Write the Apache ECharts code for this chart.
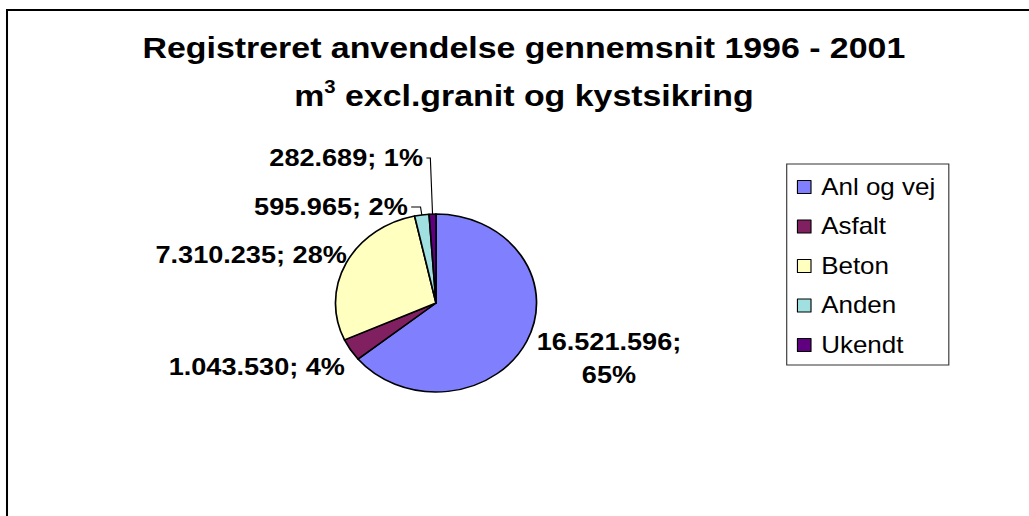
<!DOCTYPE html>
<html>
<head>
<meta charset="utf-8">
<script src="https://cdn.jsdelivr.net/npm/echarts@6/dist/echarts.min.js"></script>
<style>
html,body{margin:0;padding:0;background:#fff;overflow:hidden;}
#main{width:911px;height:516px;transform:scaleX(1.12953);transform-origin:0 0;}
</style>
</head>
<body>
<div id="main"></div>
<script>
// ---- data ----
const categories = ['Anl og vej', 'Asfalt', 'Beton', 'Anden', 'Ukendt'];
const values = [16521596, 1043530, 7310235, 595965, 282689];
const shownPercent = [65, 4, 28, 2, 1];
const colors = ['#8080FF', '#802060', '#FFFFC0', '#A0E0E0', '#600080'];
const titleLine1 = 'Registreret anvendelse gennemsnit 1996 - 2001';
const titleLine2a = 'm';
const titleLine2sup = '3';
const titleLine2b = ' excl.granit og kystsikring';

// per-slice label line geometry (style only)
const lineLen = [38.8, 32.7, 18.1, 8, 56.1];
const lineLen2 = [-29.3, -25.9, -19.8, 8.3, 3.5];
const lineShow = [false, false, false, true, true];
const wrapLabel = [true, false, false, false, false];

function fmt(v) {
  return String(v).replace(/\B(?=(\d{3})+(?!\d))/g, '.');
}

const font = "'Liberation Sans', Arial, sans-serif";
const chart = echarts.init(document.getElementById('main'), null, {renderer: 'svg'});

const data = categories.map((name, i) => ({
  name: name,
  value: values[i],
  itemStyle: {color: colors[i]},
  labelLine: {show: lineShow[i], length: lineLen[i], length2: lineLen2[i]}
}));

chart.setOption({
  animation: false,
  backgroundColor: '#fff',
  graphic: [{
    type: 'rect', silent: true,
    shape: {x: 6.2, y: 10, width: 1200, height: 800},
    style: {fill: 'none', stroke: '#000', lineWidth: 1.8}
  }],
  title: [{
    text: titleLine1,
    left: 463.8, top: 32.5, padding: 0,
    textAlign: 'center', textVerticalAlign: 'top',
    textStyle: {fontFamily: font, fontSize: 30, fontWeight: 'bold', color: '#000', lineHeight: 30}
  }, {
    text: '{b|' + titleLine2a + '}{s|' + titleLine2sup + '}{b|' + titleLine2b + '}',
    left: 463.8, top: 77.5, padding: 0,
    textAlign: 'center', textVerticalAlign: 'top',
    textStyle: {
      fontFamily: font, fontSize: 30, fontWeight: 'bold', color: '#000',
      rich: {
        b: {fontFamily: font, fontSize: 30, fontWeight: 'bold', color: '#000', lineHeight: 36},
        s: {fontFamily: font, fontSize: 18, fontWeight: 'bold', color: '#000', lineHeight: 18, verticalAlign: 'top'}
      }
    }
  }],
  legend: {
    orient: 'vertical',
    left: 696.5, top: 164,
    padding: [10, 12, 7, 9],
    itemGap: 13.5,
    itemWidth: 12, itemHeight: 13,
    icon: 'rect',
    borderColor: '#333', borderWidth: 1,
    itemStyle: {borderColor: '#000', borderWidth: 1},
    textStyle: {fontFamily: font, fontSize: 23, color: '#000', lineHeight: 26, padding: [0, 0, 0, 4]},
    data: categories
  },
  series: [{
    type: 'pie',
    center: [386, 303],
    radius: 89,
    startAngle: 90,
    clockwise: true,
    avoidLabelOverlap: false,
    emphasis: {disabled: true},
    itemStyle: {borderColor: '#000', borderWidth: 1.5},
    label: {
      show: true,
      position: 'outside',
      distanceToLabelLine: 3,
      fontFamily: font, fontSize: 24, fontWeight: 'bold', color: '#000',
      formatter: function (p) {
        const i = p.dataIndex;
        const a = fmt(values[i]) + ';';
        const b = shownPercent[i] + '%';
        return wrapLabel[i] ? '{c|' + a + '}\n{c|' + b + '}' : '{c|' + a + ' ' + b + '}';
      },
      rich: {
        c: {fontFamily: font, fontSize: 24, fontWeight: 'bold', color: '#000', align: 'center', lineHeight: 33}
      }
    },
    labelLine: {lineStyle: {color: '#000', width: 1}, smooth: false},
    data: data
  }]
});
</script>
</body>
</html>
